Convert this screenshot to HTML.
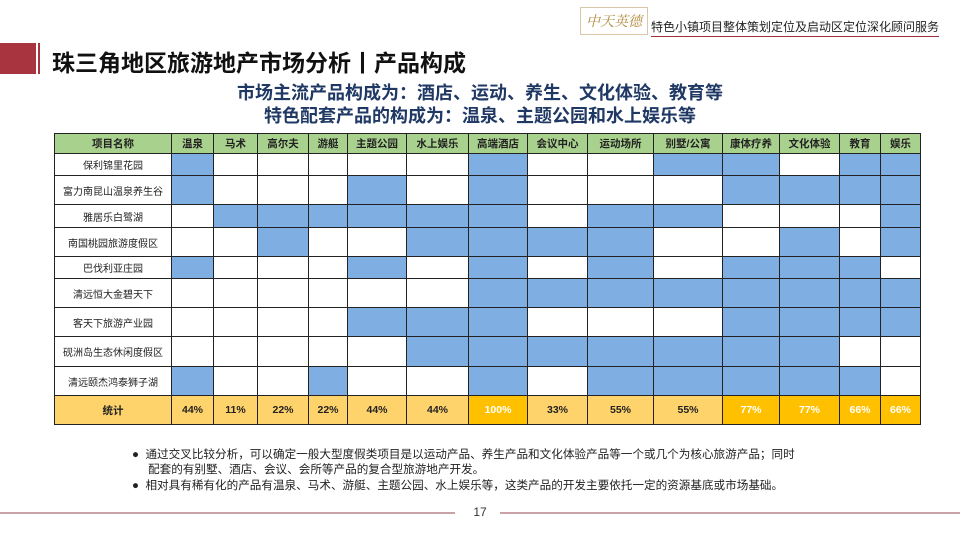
<!DOCTYPE html>
<html><head><meta charset="utf-8">
<style>
body{margin:0;width:960px;height:540px;position:relative;background:#fff;overflow:hidden;font-family:"Liberation Sans","Noto Sans CJK SC",sans-serif;}
.abs{position:absolute;}
.cell{position:absolute;box-sizing:border-box;border:1px solid #222;display:flex;align-items:center;justify-content:center;font-size:10px;color:#222;white-space:nowrap;}
.hd{background:#A9D18E;font-weight:bold;font-size:10.5px;}
.st{font-weight:bold;font-size:10.5px;}
</style></head>
<body>
<div class="abs" style="left:580px;top:7px;width:66px;height:26px;border:1px solid #d8c8a8;color:#b08a3a;font-family:'Noto Serif CJK SC',serif;font-size:14px;font-style:italic;line-height:26px;text-align:center;white-space:nowrap;">中天英德</div>
<div class="abs" style="left:651px;top:18px;font-size:12px;color:#222;border-bottom:1px solid #a0303a;padding-bottom:1px;white-space:nowrap;">特色小镇项目整体策划定位及启动区定位深化顾问服务</div>
<div class="abs" style="left:0;top:43px;width:36px;height:31px;background:#A8343F;"></div>
<div class="abs" style="left:38px;top:43px;width:2px;height:31px;background:#A8343F;"></div>
<div class="abs" style="left:52px;top:44px;font-size:23px;font-weight:bold;color:#111;">珠三角地区旅游地产市场分析丨产品构成</div>
<div class="abs" style="left:0;width:960px;top:82px;text-align:center;font-size:18px;font-weight:bold;color:#1F3864;line-height:23px;">市场主流产品构成为：酒店、运动、养生、文化体验、教育等<br>特色配套产品的构成为：温泉、主题公园和水上娱乐等</div>
<div id="tbl"></div>
<div class="abs" style="left:132px;top:447px;font-size:11.6px;color:#222;line-height:15px;width:680px;">
<div style="padding-left:16px;text-indent:-16px;">●&nbsp;&nbsp;通过交叉比较分析，可以确定一般大型度假类项目是以运动产品、养生产品和文化体验产品等一个或几个为核心旅游产品；同时<br>配套的有别墅、酒店、会议、会所等产品的复合型旅游地产开发。</div>
<div style="padding-left:16px;text-indent:-16px;margin-top:1px;">●&nbsp;&nbsp;相对具有稀有化的产品有温泉、马术、游艇、主题公园、水上娱乐等，这类产品的开发主要依托一定的资源基底或市场基础。</div>
</div>
<div class="abs" style="left:0;top:512px;width:455px;height:2px;background:#c9a3a8;"></div>
<div class="abs" style="left:500px;top:512px;width:460px;height:2px;background:#c9a3a8;"></div>
<div class="abs" style="left:465px;top:505px;width:30px;text-align:center;font-size:12px;color:#333;">17</div>
<script>
const columns=["温泉","马术","高尔夫","游艇","主题公园","水上娱乐","高端酒店","会议中心","运动场所","别墅/公寓","康体疗养","文化体验","教育","娱乐"];
const projects=["保利锦里花园","富力南昆山温泉养生谷","雅居乐白鹭湖","南国桃园旅游度假区","巴伐利亚庄园","清远恒大金碧天下","客天下旅游产业园","砚洲岛生态休闲度假区","清远颐杰鸿泰狮子湖"];
const presence=[
[1,0,0,0,0,0,1,0,0,1,1,0,1,1],
[1,0,0,0,1,0,1,0,0,0,1,1,1,1],
[0,1,1,1,1,1,1,0,1,1,0,0,0,1],
[0,0,1,0,0,1,1,1,1,0,0,1,0,1],
[1,0,0,0,1,0,1,0,1,0,1,1,1,0],
[0,0,0,0,0,0,1,1,1,1,1,1,1,1],
[0,0,0,0,1,1,1,0,0,0,1,1,1,1],
[0,0,0,0,0,1,1,1,1,1,1,1,0,0],
[1,0,0,1,0,0,1,0,1,1,1,1,1,0]];
const statLabels=["44%","11%","22%","22%","44%","44%","100%","33%","55%","55%","77%","77%","66%","66%"];
const highlight=[0,0,0,0,0,0,1,0,0,0,1,1,1,1];
const xEdges=[54,171,213,257,308,347,406,468,527,587,653,722,779,839,880,920];
const yEdges=[133,153,175,204,227,256,278,307,336,366,395,424];
const tbl=document.getElementById('tbl');
function cell(x0,x1,y0,y1,cls,txt,bg,color){
  const d=document.createElement('div');
  d.className='cell '+cls;
  d.style.left=x0+'px';d.style.top=y0+'px';
  d.style.width=(x1-x0+1)+'px';d.style.height=(y1-y0+1)+'px';
  if(bg)d.style.background=bg;
  if(color)d.style.color=color;
  d.textContent=txt;
  tbl.appendChild(d);return d;
}
let h=cell(xEdges[0],xEdges[1],yEdges[0],yEdges[1],'hd','项目名称');


columns.forEach((c,j)=>{
  const d=cell(xEdges[j+1],xEdges[j+2],yEdges[0],yEdges[1],'hd',c);
  
  
});
projects.forEach((p,i)=>{
  const y0=yEdges[i+1],y1=yEdges[i+2];
  const n=cell(xEdges[0],xEdges[1],y0,y1,'',p,'#fff');
  
  
  presence[i].forEach((v,j)=>{
    const d=cell(xEdges[j+1],xEdges[j+2],y0,y1,'','',v?'#7FAEE3':'#fff');
    
    
  });
});
const sy0=yEdges[10],sy1=yEdges[11];
let s=cell(xEdges[0],xEdges[1],sy0,sy1,'st','统计','#FFD36B');


statLabels.forEach((t,j)=>{
  const d=cell(xEdges[j+1],xEdges[j+2],sy0,sy1,'st',t,highlight[j]?'#FFC000':'#FFD36B',highlight[j]?'#fff':'#222');
  
  
});
</script>
</body></html>
